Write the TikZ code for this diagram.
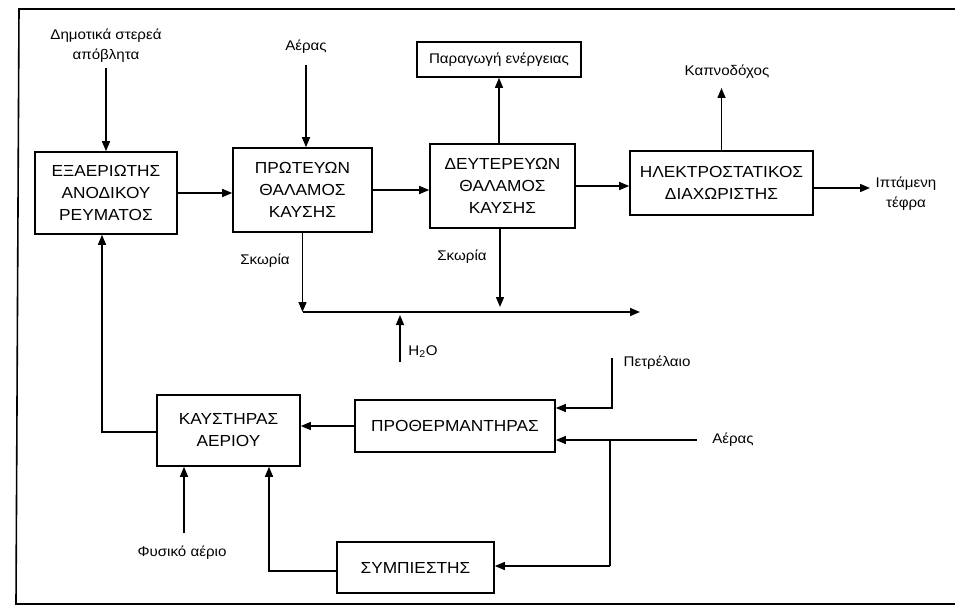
\documentclass[tikz,border=0pt]{standalone}
\usepackage{fontspec}
\setmainfont{Liberation Sans}[FakeStretch=1.08]
\usetikzlibrary{arrows.meta}
\begin{document}
\begin{tikzpicture}[x=1pt,y=-1pt,
  box/.style={draw, line width=1.6pt, align=center, font=\fontsize{16}{22}\selectfont, inner sep=0pt},
  ebox/.style={draw, line width=1.6pt, align=center, font=\fontsize{14}{20}\selectfont, inner sep=0pt},
  lbl/.style={align=center, font=\fontsize{14}{20}\selectfont, inner sep=0pt},
  flow/.style={line width=1.4pt, -{Triangle[length=10pt,width=8pt]}},
  frame/.style={line width=1.6pt}]
\useasboundingbox (0,0) rectangle (955,607);
\draw[frame] (955,9) -- (19,9) -- (16,604) -- (955,604);

% boxes
\node[box, minimum width=142pt, minimum height=82pt] (exa) at (106,193) {ΕΞΑΕΡΙΩΤΗΣ\\ΑΝΟΔΙΚΟΥ\\ΡΕΥΜΑΤΟΣ};
\node[box, minimum width=139pt, minimum height=84pt] (prot) at (302.5,190) {ΠΡΩΤΕΥΩΝ\\ΘΑΛΑΜΟΣ\\ΚΑΥΣΗΣ};
\node[box, minimum width=145pt, minimum height=84pt] (deut) at (502.5,186) {ΔΕΥΤΕΡΕΥΩΝ\\ΘΑΛΑΜΟΣ\\ΚΑΥΣΗΣ};
\node[ebox, minimum width=164pt, minimum height=35pt] (energy) at (499,59.5) {Παραγωγή ενέργειας};
\node[box, minimum width=183pt, minimum height=64pt] (hlek) at (721.5,183) {ΗΛΕΚΤΡΟΣΤΑΤΙΚΟΣ\\ΔΙΑΧΩΡΙΣΤΗΣ};
\node[box, minimum width=143pt, minimum height=71pt] (kaust) at (228.5,430.5) {ΚΑΥΣΤΗΡΑΣ\\ΑΕΡΙΟΥ};
\node[box, minimum width=200pt, minimum height=52pt] (proth) at (455,426) {ΠΡΟΘΕΡΜΑΝΤΗΡΑΣ};
\node[box, minimum width=157pt, minimum height=51pt] (symp) at (415.5,567.5) {ΣΥΜΠΙΕΣΤΗΣ};

% labels
\node[lbl] (dim) at (106,46) {Δημοτικά στερεά\\απόβλητα};
\node[lbl] (aer1) at (306,47) {Αέρας};
\node[lbl] (kapn) at (727,72) {Καπνοδόχος};
\node[lbl] (ipt) at (906,194) {Ιπτάμενη\\τέφρα};
\node[lbl] (sk1l) at (265,261) {Σκωρία};
\node[lbl] (sk2l) at (462,257) {Σκωρία};
\node[lbl] (h2o) at (423,352) {H\textsubscript{2}O};
\node[lbl] (pet) at (657,363) {Πετρέλαιο};
\node[lbl] (aer2) at (733,440) {Αέρας};
\node[lbl] (fys) at (182,553) {Φυσικό αέριο};

% coordinates
\coordinate (dimS) at (106,68);
\coordinate (a1S) at (306,65);
\coordinate (kapT) at (721.5,88);
\coordinate (iptT) at (870,188);
\coordinate (sk1) at (302.5,312);
\coordinate (sk2) at (500,307);
\coordinate (hend) at (640,312);
\coordinate (h2oS) at (400,362);
\coordinate (h2oT) at (400,315);
\coordinate (petS) at (612,358);
\coordinate (petC) at (612,408);
\coordinate (aer2S) at (697,440);
\coordinate (brA) at (610,440);
\coordinate (brB) at (610,566);
\coordinate (retC) at (102,432);
\coordinate (fysS) at (184,533);
\coordinate (spC) at (269,571);

% connectors
\draw[flow] (dimS) -- (dimS |- exa.north);
\draw[flow] (a1S) -- (a1S |- prot.north);
\draw[flow] (exa.east) -- (exa.east -| prot.west);
\draw[flow] (prot.east) -- (prot.east -| deut.west);
\draw[flow] (deut.east) -- (deut.east -| hlek.west);
\draw[flow] (energy.south |- deut.north) -- (energy.south);
\draw[flow] (hlek.north) -- (kapT);
\draw[flow] (hlek.east |- iptT) -- (iptT);
\draw[flow] (prot.south) -- (sk1);
\draw[flow] (deut.south -| sk2) -- (sk2);
\draw[flow] (sk1) -- (hend);
\draw[flow] (h2oS) -- (h2oT);
\draw[flow] (petS) -- (petC) -- (petC -| proth.east);
\draw[flow] (aer2S) -- (aer2S -| proth.east);
\draw[line width=1.4pt] (brA) -- (brB);
\draw[flow] (brB) -- (brB -| symp.east);
\draw[flow] (proth.west) -- (proth.west -| kaust.east);
\draw[flow] (kaust.west |- retC) -- (retC) -- (retC |- exa.south);
\draw[flow] (fysS) -- (fysS |- kaust.south);
\draw[flow] (symp.west |- spC) -- (spC) -- (spC |- kaust.south);
\end{tikzpicture}
\end{document}
